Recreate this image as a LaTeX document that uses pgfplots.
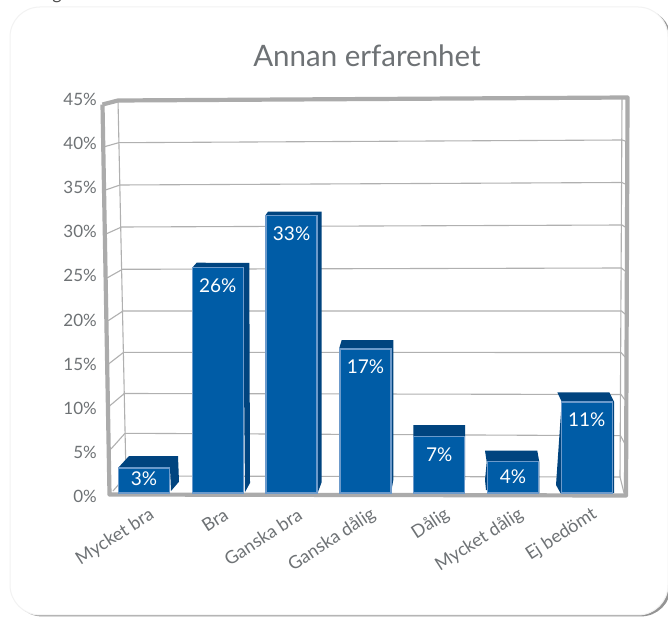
\documentclass[border=0pt]{standalone}
\usepackage{pgfplots}
\pgfplotsset{compat=1.18}
\usepackage{fontspec}
\setmainfont{Lato}
\definecolor{txt}{HTML}{6E7275}
\definecolor{frame}{HTML}{ABABAB}
\definecolor{gridc}{HTML}{B0B0B0}
\definecolor{barf}{HTML}{005CA6}
\definecolor{bare}{HTML}{6C9ACB}
\definecolor{bard}{HTML}{00447F}
\pgfplotstableread{
idx h lab
0 2.9 3\%
1 26 26\%
2 32 33\%
3 16.6 17\%
4 6.5 7\%
5 3.6 4\%
6 10.5 11\%
}\bars
\begin{document}
\begin{tikzpicture}[x=1pt,y=1pt]
\path[use as bounding box,clip] (0,0) rectangle (668,617);
\node[anchor=base,inner sep=0pt,text=black!70,font=\fontsize{18}{18}\selectfont] at (57,617.5) {g};
% panel
\fill[black!42,rounded corners=30pt] (12,0.6) rectangle (671,608);
\fill[white,draw=black!5,line width=1pt,rounded corners=30pt] (10,2) rectangle (668,610);
\node[text=txt,font=\fontsize{29.5}{29.5}\selectfont] at (367,561) {Annan erfarenhet};
% wall, grid, frame, bar sides in picture units
\begin{axis}[at={(0pt,0pt)},anchor=south west,scale only axis,width=668pt,height=617pt,
  xmin=0,xmax=668,ymin=0,ymax=617,y dir=reverse,hide axis,clip=false,no markers]
\pgfplotsset{gl/.style={draw=gridc,line width=1.1pt},fc/.style={draw=none,fill=bard}}
\addplot[gl] coordinates {(118,100) (126,476)};
\addplot[gl] coordinates {(622,98) (620,477)};
\addplot[gl] coordinates {(104.5,146.7) (118.7,142.7) (622,140) (625,141)};
\addplot[gl] coordinates {(105.5,190) (120,185) (622,182.5) (625,184)};
\addplot[gl] coordinates {(106,234) (121.5,227) (622,225) (625,227)};
\addplot[gl] coordinates {(107,278) (122.5,269.3) (621.5,268) (625,271)};
\addplot[gl] coordinates {(107.7,321) (123,311) (621.5,311) (625,314)};
\addplot[gl] coordinates {(108.5,364) (123.7,352.3) (621,352.5) (625,357)};
\addplot[gl] coordinates {(109.5,406) (124.3,393.5) (621,394.5) (625,400)};
\addplot[gl] coordinates {(111,449) (125,433.3) (620.5,435.7) (625,444)};
\addplot[gl] coordinates {(113,491) (126,476) (620,477) (624,493)};
% bar tops and sides
\addplot[fc] coordinates {(118,468) (129,456) (178,456) (179,481.7) (171,491) (170,468)} --cycle;
\addplot[fc] coordinates {(192,268) (196.7,262.7) (249.3,263) (250,483) (245,492) (243,268)} --cycle;
\addplot[fc] coordinates {(265,216) (268,211.7) (321.7,211.7) (321.7,482) (318,492) (316,216)} --cycle;
\addplot[fc] coordinates {(339,349) (341.7,340) (393.3,340) (393.3,480) (391,493) (391,349)} --cycle;
\addplot[fc] coordinates {(413.3,436.7) (413.3,425) (465,425) (465,480) (464.3,493) (464.3,436.7)} --cycle;
\addplot[fc] coordinates {(486.7,462) (485,450.7) (537.3,450.7) (539.3,462) (539.3,493) (486,490) (485,480)} --cycle;
\addplot[fc] coordinates {(561.7,401.7) (557.3,392.3) (609.3,392.3) (614,401.7) (614,493) (561,494) (556,485)} --cycle;
% frame
\addplot[draw=frame,line width=4.2pt,line join=round] coordinates {(102.5,104.5) (118,100.5) (627.5,97.5) (626,495.5) (109.5,494.5) (102.5,104.5)};
\end{axis}
% bars
\begin{axis}[at={(107.1pt,124pt)},anchor=south west,scale only axis,width=516.6pt,height=390pt,
  xmin=-0.5,xmax=6.5,ymin=0,ymax=45,clip=false,
  axis line style={draw=none},ymajorticks=false,major tick length=0pt,
  xtick={0,...,6},xticklabels={Mycket bra,Bra,Ganska bra,Ganska dålig,Dålig,Mycket dålig,Ej bedömt},
  x tick label style={rotate=33,anchor=east,inner sep=0pt,text=txt,font=\fontsize{18}{18}\selectfont,xshift=-3.7pt,yshift=-21.3pt},
  ybar,bar width=51pt,
  nodes near coords,point meta=explicit symbolic,
  every node near coord/.append style={anchor=center,text=white,yshift=-18pt,font=\fontsize{19}{19}\selectfont},
  coordinate style/.condition={y<3}{yshift=7pt},
  coordinate style/.condition={y>3 && y<4}{yshift=3pt}]
\addplot[fill=barf,draw=bare,line width=1.4pt] table[x=idx,y=h,meta=lab] {\bars};
\end{axis}
% percent scale
\begin{axis}[at={(97pt,120.3pt)},anchor=south west,scale only axis,width=1pt,height=397.7pt,
  xmin=0,xmax=1,ymin=0,ymax=45,axis line style={draw=none},xtick=\empty,
  ytick={0,5,...,45},yticklabels={0\%,5\%,10\%,15\%,20\%,25\%,30\%,35\%,40\%,45\%},
  major tick length=0pt,tick label style={text=txt,font=\fontsize{17}{17}\selectfont,inner sep=0pt}]
\end{axis}
\end{tikzpicture}
\end{document}
